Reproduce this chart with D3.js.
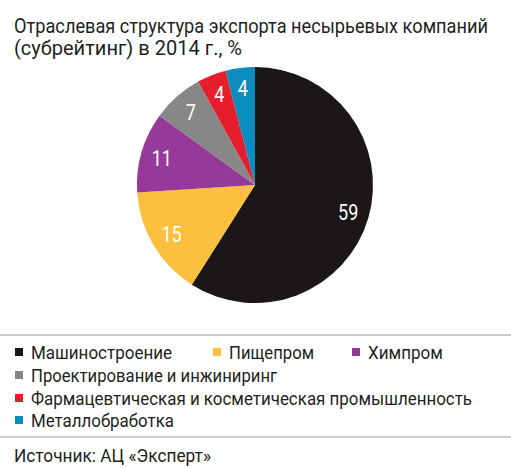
<!DOCTYPE html>
<html>
<head>
<meta charset="utf-8">
<script src="https://cdn.jsdelivr.net/npm/d3@7"></script>
<style>
  body { margin: 0; background: #fff; }
  svg text { font-family: "Roboto", "Liberation Sans", sans-serif; }
</style>
</head>
<body>
<div id="chart"></div>
<script>
// data
var sectors = ["Машиностроение", "Пищепром", "Химпром", "Проектирование и инжиниринг",
  "Фармацевтическая и косметическая промышленность", "Металлобработка"];
var shares = [59, 15, 11, 7, 4, 4];
var colors = ["#1b1718", "#fcbf3e", "#953a98", "#878787", "#e41f2b", "#0b8dc0"];
var titleLines = ["Отраслевая структура экспорта несырьевых компаний", "(субрейтинг) в 2014 г., %"];
var source = "Источник: АЦ «Эксперт»";

var width = 511, height = 468;
var cx = 255, cy = 185, radius = 118;

// the original uses a condensed face: widths of each text as set in the picture
var titleWidths = [474, 228];
var legendWidths = [141, 85, 75, 246, 441, 143];
var sourceWidth = 197;
var legendPos = [[15, 352], [213, 352], [352, 352], [15, 375], [15, 398], [15, 420]];

var svg = d3.select("#chart").append("svg")
  .attr("width", width)
  .attr("height", height)
  .attr("viewBox", [0, 0, width, height]);

// title
svg.append("g").selectAll("text")
  .data(titleLines)
  .join("text")
    .attr("x", 14)
    .attr("y", (d, i) => 33 + i * 21.5)
    .attr("font-size", 20)
    .attr("fill", "#231f20")
    .attr("textLength", (d, i) => titleWidths[i])
    .attr("lengthAdjust", "spacingAndGlyphs")
    .text(d => d);

// pie
var pie = d3.pie().sort(null).value(d => d);
var arcs = pie(shares);
var arc = d3.arc().innerRadius(0).outerRadius(radius);
var labelArc = d3.arc().innerRadius(97).outerRadius(97);

var g = svg.append("g").attr("transform", "translate(" + cx + "," + cy + ")");
g.selectAll("path")
  .data(arcs)
  .join("path")
    .attr("d", arc)
    .attr("fill", (d, i) => colors[i]);

g.selectAll("text")
  .data(arcs)
  .join("text")
    .attr("transform", d => "translate(" + labelArc.centroid(d) + ") scale(0.82,1)")
    .attr("text-anchor", "middle")
    .attr("dominant-baseline", "central")
    .attr("font-size", 22)
    .attr("fill", "#fff")
    .text(d => d.data);

// separators
svg.append("line").attr("x1", 0).attr("x2", width).attr("y1", 335).attr("y2", 335)
  .attr("stroke", "#999").attr("stroke-width", 1);
svg.append("line").attr("x1", 0).attr("x2", width).attr("y1", 437).attr("y2", 437)
  .attr("stroke", "#999").attr("stroke-width", 1);

// legend
var legend = svg.append("g").selectAll("g")
  .data(sectors)
  .join("g")
    .attr("transform", (d, i) => "translate(" + legendPos[i][0] + "," + legendPos[i][1] + ")");

legend.append("rect")
  .attr("x", 0).attr("y", -4)
  .attr("width", 8).attr("height", 8)
  .attr("fill", (d, i) => colors[i]);

legend.append("text")
  .attr("x", 16)
  .attr("dominant-baseline", "central")
  .attr("font-size", 18)
  .attr("fill", "#231f20")
  .attr("textLength", (d, i) => legendWidths[i])
  .attr("lengthAdjust", "spacingAndGlyphs")
  .text(d => d);

svg.append("text")
  .attr("x", 14).attr("y", 455)
  .attr("dominant-baseline", "central")
  .attr("font-size", 18)
  .attr("fill", "#231f20")
  .attr("textLength", sourceWidth)
  .attr("lengthAdjust", "spacingAndGlyphs")
  .text(source);
</script>
</body>
</html>
